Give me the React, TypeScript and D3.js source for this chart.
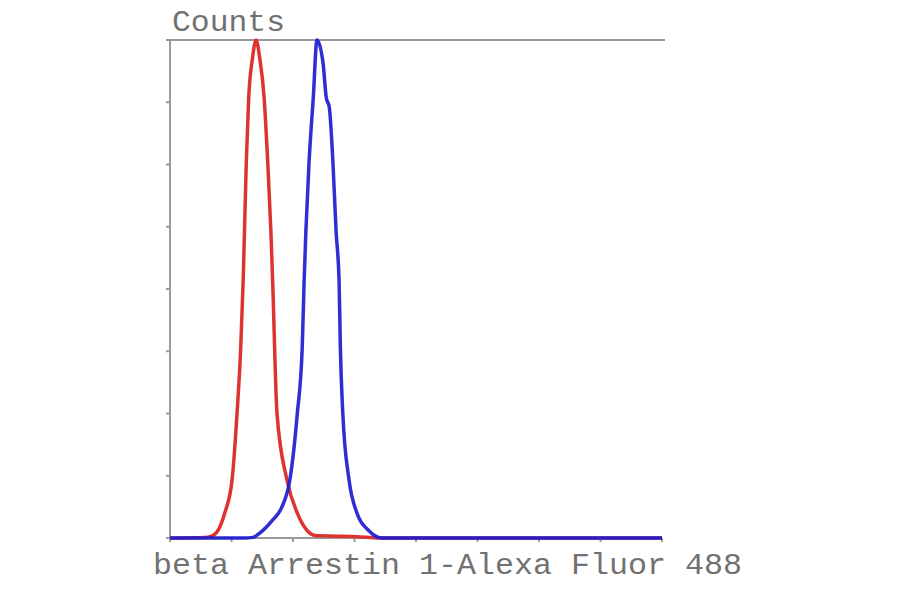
import React from "react";
import * as d3 from "d3";

// Fluorescence channel (x) and event counts (y)
const redX = [0, 57, 65, 78, 89, 101, 109, 115, 119, 124, 128, 134, 140, 146, 153, 159, 164, 167, 174, 190, 207, 223, 236, 270, 304, 341, 500, 800];
const redY = [0, 0.5, 1, 6, 20, 47, 100, 153, 207, 301, 354, 385, 400, 385, 354, 301, 247, 205, 100, 47, 20, 6, 2, 1.5, 1, 0, 0, 0];

const blueX = [0, 120, 135, 146, 166, 182, 195, 207, 215, 218, 221, 226, 233, 239, 249, 254, 259, 265, 270, 275, 277, 281, 291, 304, 323, 344, 400, 800];
const blueY = [0, 0, 0.5, 4, 14, 25, 47, 100, 153, 205, 247, 301, 354, 400, 381, 354, 346, 301, 247, 205, 153, 100, 47, 20, 6, 0, 0, 0];

const xTicks = [0, 100, 200, 300, 400, 500, 600, 700, 800];
const yTicks = [0, 50, 100, 150, 200, 250, 300, 350, 400];

const yTitle = "Counts";
const xTitle = "beta Arrestin 1-Alexa Fluor 488";

const W = 900;
const H = 594;
const left = 170;
const right = 662;
const top = 40;
const bottom = 538;

export default function App() {
  const x = d3.scaleLinear().domain([0, 800]).range([left, right]);
  const y = d3.scaleLinear().domain([0, 400]).range([bottom, top]);
  const line = d3
    .line<[number, number]>()
    .x((d) => x(d[0]))
    .y((d) => y(d[1]))
    .curve(d3.curveMonotoneX);
  const red = line(redX.map((v, i) => [v, redY[i]] as [number, number])) || "";
  const blue = line(blueX.map((v, i) => [v, blueY[i]] as [number, number])) || "";
  const axisColor = "#9a9a9a";
  const textColor = "#717171";
  return (
    <svg
      width={W}
      height={H}
      style={{ position: "absolute", left: 0, top: 0, background: "#fff" }}
    >
      <rect x={0} y={0} width={W} height={H} fill="#fff" />
      {/* axes */}
      <line x1={left} y1={top} x2={left} y2={bottom} stroke={axisColor} strokeWidth={2} />
      <line x1={left - 1} y1={top} x2={right + 3} y2={top} stroke={axisColor} strokeWidth={2} />
      <line x1={left} y1={bottom} x2={right} y2={bottom} stroke={axisColor} strokeWidth={2} />
      {yTicks.map((t) => (
        <line key={"y" + t} x1={left - 4} x2={left} y1={y(t)} y2={y(t)} stroke={axisColor} strokeWidth={2} />
      ))}
      {xTicks.map((t) => (
        <line key={"x" + t} x1={x(t)} x2={x(t)} y1={bottom} y2={bottom + 4} stroke={axisColor} strokeWidth={2} />
      ))}
      {/* curves */}
      <path d={red} fill="none" stroke="#dd3333" strokeWidth={3.5} strokeLinejoin="round" />
      <path d={blue} fill="none" stroke="#1c1cd0" strokeWidth={3.5} strokeLinejoin="round" opacity={0.92} />
      {/* titles */}
      <text
        x={172}
        y={31}
        fontFamily="Liberation Mono, monospace"
        fontSize={30}
        fill={textColor}
        textLength={113}
        lengthAdjust="spacingAndGlyphs"
      >
        {yTitle}
      </text>
      <text
        x={153}
        y={574}
        fontFamily="Liberation Mono, monospace"
        fontSize={30}
        fill={textColor}
        textLength={589}
        lengthAdjust="spacingAndGlyphs"
      >
        {xTitle}
      </text>
    </svg>
  );
}
